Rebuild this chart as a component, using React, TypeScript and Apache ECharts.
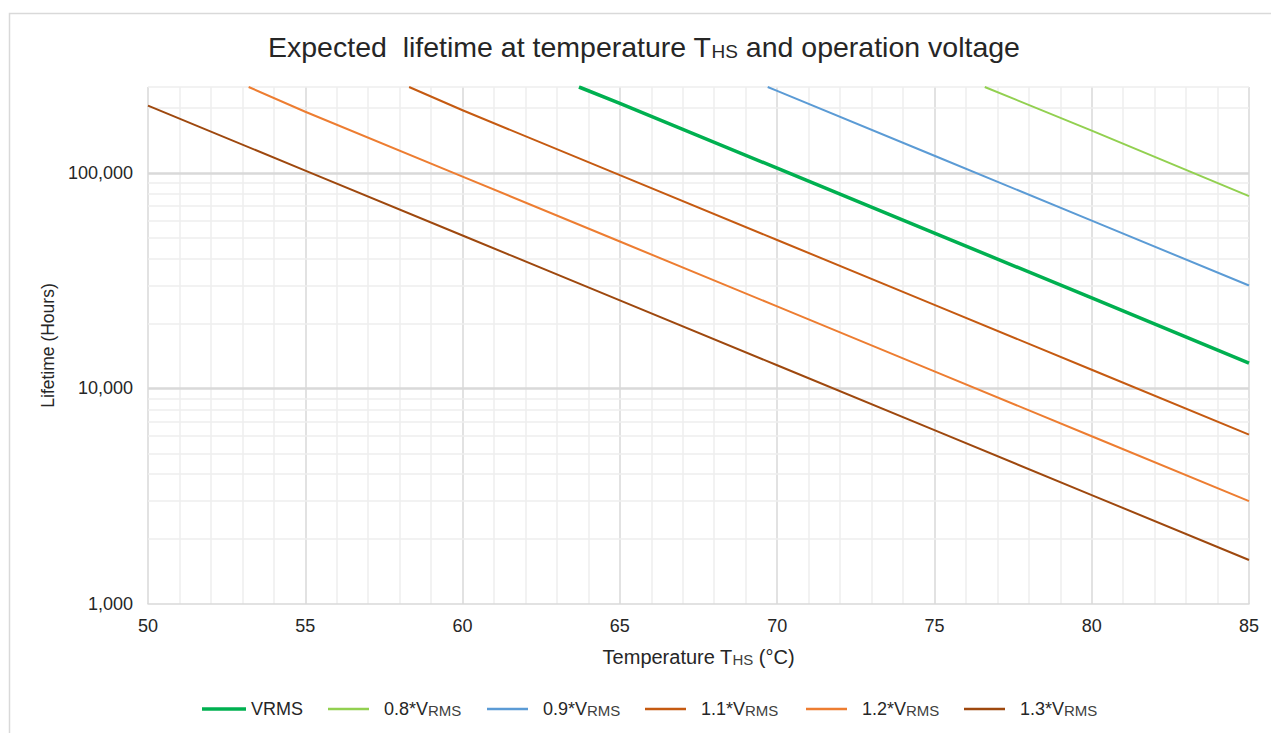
import React, { useEffect, useRef } from "react";
import * as echarts from "echarts";

// ---- data ----
const SERIES_NAMES = ["VRMS", "0.8*VRMS", "0.9*VRMS", "1.1*VRMS", "1.2*VRMS", "1.3*VRMS"];
const SERIES_COLORS = ["#00b050", "#92d050", "#5b9bd5", "#c55a11", "#ed7d31", "#9e480e"];
const SERIES_WIDTHS = [3.5, 2, 2, 2, 2, 2];

const vrms: [number, number][] = [[63.7, 250000], [65, 210000], [70, 105000], [75, 52500], [80, 26300], [85, 13100]];
const v08: [number, number][] = [[76.6, 250000], [80, 157000], [85, 78000]];
const v09: [number, number][] = [[69.7, 250000], [70, 240000], [75, 120000], [80, 60000], [85, 30000]];
const v11: [number, number][] = [[58.3, 250000], [60, 195000], [65, 97500], [70, 48800], [75, 24400], [80, 12200], [85, 6100]];
const v12: [number, number][] = [[53.2, 250000], [55, 192000], [60, 96000], [65, 48000], [70, 24000], [75, 12000], [80, 6000], [85, 3000]];
const v13: [number, number][] = [[50, 205000], [55, 102400], [60, 51200], [65, 25600], [70, 12800], [75, 6400], [80, 3200], [85, 1600]];
const SERIES_DATA = [vrms, v08, v09, v11, v12, v13];

const X_MIN = 50;
const X_MAX = 85;
const X_STEP = 5;
const Y_MIN = 1000;
const Y_MAX = 250000;
const Y_MAJOR_GRID = [10000, 100000];
const Y_MINOR_GRID = [2000, 3000, 4000, 5000, 6000, 7000, 8000, 9000, 20000, 30000, 40000, 50000, 60000, 70000, 80000, 90000, 200000, 250000];

// legend layout (left edge of each legend item)
const LEGEND_LEFT = [202, 328, 487, 645, 806, 964];

const FONT = "'Liberation Sans', Arial, sans-serif";

const subRich = (big: number, small: number) => ({
  a: { fontSize: big, color: "#262626", fontFamily: FONT, verticalAlign: "bottom" },
  s: { fontSize: small, color: "#404040", fontFamily: FONT, verticalAlign: "bottom", lineHeight: 8 },
});

export default function App() {
  const ref = useRef<HTMLDivElement>(null);
  useEffect(() => {
    if (!ref.current) return;
    const chart = echarts.init(ref.current, null, { renderer: "svg" });
    const lineSeries = SERIES_NAMES.map((name, i) => ({
      name,
      type: "line",
      data: SERIES_DATA[i],
      symbol: "none",
      clip: true,
      z: 3,
      lineStyle: { color: SERIES_COLORS[i], width: SERIES_WIDTHS[i] },
      itemStyle: { color: SERIES_COLORS[i] },
    }));
    const gridSeries = {
      name: "grid",
      type: "line",
      data: [],
      z: 1,
      silent: true,
      markLine: {
        silent: true,
        z: 1,
        symbol: "none",
        animation: false,
        label: { show: false },
        data: [
          ...Y_MINOR_GRID.map((v) => ({ yAxis: v, lineStyle: { color: "#eeeeee", width: 1.5, type: "solid" } })),
          ...Y_MAJOR_GRID.map((v) => ({ yAxis: v, lineStyle: { color: "#d9d9d9", width: 2.5, type: "solid" } })),
        ],
      },
    };
    const legends = SERIES_NAMES.map((name, i) => ({
      data: [{ name, icon: "rect" }],
      left: LEGEND_LEFT[i],
      top: 700,
      padding: 0,
      itemWidth: i === 0 ? 44 : 41,
      itemHeight: i === 0 ? 3.5 : 2.5,
      formatter: (n: string) => (n === "VRMS" ? "{a|VRMS}" : "{a|" + n.replace("VRMS", "V") + "}{s|RMS}"),
      textStyle: { padding: [0, 0, 0, i === 0 ? 0 : 10], rich: subRich(18, 15) },
    }));
    chart.setOption({
      animation: false,
      backgroundColor: "#ffffff",
      textStyle: { fontFamily: FONT },
      title: {
        text: "{a|Expected  lifetime at temperature T}{s|HS}{a| and operation voltage}",
        left: 263,
        top: 27,
        textStyle: {
          rich: {
            a: { fontFamily: FONT, fontSize: 28.5, fontWeight: "normal", color: "#262626", verticalAlign: "bottom" },
            s: { fontFamily: FONT, fontSize: 19, fontWeight: "normal", color: "#262626", verticalAlign: "bottom", lineHeight: 12 },
          },
        },
      },
      graphic: [
        {
          type: "rect",
          shape: { x: 9.5, y: 13.5, width: 1400, height: 900 },
          style: { fill: "none", stroke: "#d9d9d9", lineWidth: 1.5 },
          silent: true,
          z: -10,
        },
      ],
      legend: legends,
      grid: { left: 148, right: 22, top: 87, bottom: 129, containLabel: false },
      xAxis: {
        type: "value",
        min: X_MIN,
        max: X_MAX,
        interval: X_STEP,
        name: "{a|Temperature T}{s|HS}{a| (°C)}",
        nameLocation: "middle",
        nameGap: 43,
        nameTextStyle: { rich: subRich(20, 15) },
        axisLine: { show: true, lineStyle: { color: "#d9d9d9", width: 1.5 } },
        axisTick: { show: false },
        axisLabel: { fontSize: 18, color: "#262626", margin: 13 },
        splitLine: { show: true, lineStyle: { color: "#d9d9d9", width: 1.5 } },
        minorTick: { show: false, splitNumber: 5 },
        minorSplitLine: { show: true, lineStyle: { color: "#eeeeee", width: 1.5 } },
      },
      yAxis: {
        type: "log",
        logBase: 10,
        min: Y_MIN,
        max: Y_MAX,
        name: "Lifetime (Hours)",
        nameLocation: "middle",
        nameGap: 90,
        nameTextStyle: { fontSize: 17.5, color: "#262626" },
        axisLine: { show: false },
        axisTick: { show: false },
        splitLine: { show: false },
        axisLabel: {
          fontSize: 18,
          color: "#262626",
          margin: 15,
          showMaxLabel: false,
          formatter: (v: number) => Math.round(v).toLocaleString("en-US"),
        },
      },
      series: [gridSeries, ...lineSeries],
    });
    return () => chart.dispose();
  }, []);
  return (
    <div
      ref={ref}
      style={{ position: "absolute", left: 0, top: 0, width: 1271, height: 733, background: "#fff" }}
    />
  );
}
